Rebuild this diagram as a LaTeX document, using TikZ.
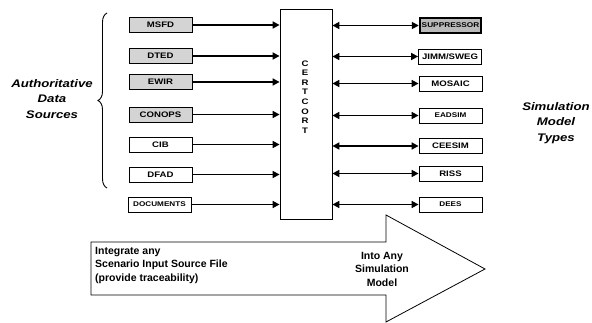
\documentclass[tikz,border=0pt]{standalone}
\usepackage{fontspec}
\setmainfont{Liberation Sans}
\newfontfamily\widesans{Liberation Sans}[FakeStretch=1.2]
\usetikzlibrary{arrows.meta,decorations.pathreplacing}

\tikzset{
  srcbox/.style={draw, line width=0.8pt, minimum width=63pt, minimum height=15pt, inner sep=0pt, font=\widesans\bfseries\fontsize{8}{9}\selectfont},
  smalltext/.style={font=\widesans\bfseries\fontsize{6.8}{8}\selectfont},
  shaded/.style={fill=black!17},
  feed/.style={line width=1.6pt, -{Triangle[length=7pt,width=7pt]}},
  swap/.style={line width=1.6pt, {Triangle[length=7pt,width=7pt]}-{Triangle[length=7pt,width=7pt]}},
  sidetext/.style={font=\widesans\bfseries\itshape\fontsize{11}{15.5}\selectfont, align=center},
  arrowtext/.style={font=\bfseries\fontsize{10.5}{13.5}\selectfont, inner sep=0pt},
}

\begin{document}
\begin{tikzpicture}[x=1pt, y=-1pt]
	%%%%% FRAME %%%%%
	\useasboundingbox (0,0) rectangle (592,323);
	
	%%%%% SOURCES %%%%%
	\node[sidetext] (authority) at (52, 99) {Authoritative\\Data\\Sources};
	\draw[line width=0.9pt, decorate, decoration={brace, amplitude=9pt}] (107, 188) -- (107, 13);
	
	\node[srcbox, shaded] (msfd) at (160.5, 25) {MSFD};
	\node[srcbox, shaded] (dted) at (160.5, 56) {DTED};
	\node[srcbox, shaded] (ewir) at (160.5, 82) {EWIR};
	\node[srcbox, shaded] (conops) at (160.5, 114.5) {CONOPS};
	\node[srcbox] (cib) at (160.5, 144.5) {CIB};
	\node[srcbox] (dfad) at (160.5, 174.5) {DFAD};
	\node[srcbox, smalltext] (documents) at (159.5, 204.5) {DOCUMENTS};
	
	%%%%% CERTCORT %%%%%
	\node[draw, line width=0.8pt, minimum width=52pt, minimum height=210pt, inner sep=0pt] (certcort) at (306, 114) {};
	\node[font=\widesans\bfseries\fontsize{8}{9.6}\selectfont, align=center, inner sep=0pt] (certtext) at (305, 97) {C\\E\\R\\T\\C\\O\\R\\T};
	
	\draw[feed] (msfd.east) -- (msfd.east -| certcort.west);
	\draw[feed] (dted.east) -- (dted.east -| certcort.west);
	\draw[feed] (ewir.east) -- (ewir.east -| certcort.west);
	\draw[feed] (conops.east) -- (conops.east -| certcort.west);
	\draw[feed] (cib.east) -- (cib.east -| certcort.west);
	\draw[feed] (dfad.east) -- (dfad.east -| certcort.west);
	\draw[feed] (documents.east) -- (documents.east -| certcort.west);
	
	%%%%% MODELS %%%%%
	\node[srcbox, fill=black!27, line width=2.4pt, minimum width=61pt, font=\widesans\bfseries\fontsize{6.9}{8}\selectfont] (suppressor) at (450.5, 25.5) {SUPPRESSOR};
	\node[srcbox] (jimm) at (450, 56.5) {JIMM/SWEG};
	\node[srcbox] (mosaic) at (450.5, 83.5) {MOSAIC};
	\node[srcbox, smalltext] (eadsim) at (450.5, 115.5) {EADSIM};
	\node[srcbox] (ceesim) at (450.5, 146) {CEESIM};
	\node[srcbox] (riss) at (450.5, 173.5) {RISS};
	\node[srcbox, smalltext] (dees) at (450.5, 204.5) {DEES};
	
	\draw[swap] (certcort.east |- suppressor.west) -- (suppressor.west);
	\draw[swap] (certcort.east |- jimm.west) -- (jimm.west);
	\draw[swap] (certcort.east |- mosaic.west) -- (mosaic.west);
	\draw[swap] (certcort.east |- eadsim.west) -- (eadsim.west);
	\draw[swap] (certcort.east |- ceesim.west) -- (ceesim.west);
	\draw[swap] (certcort.east |- riss.west) -- (riss.west);
	\draw[swap] (certcort.east |- dees.west) -- (dees.west);
	
	\node[sidetext] (modeltypes) at (556, 123) {Simulation\\Model\\Types};
	
	%%%%% BIG ARROW %%%%%
	\draw[line width=0.8pt] (91, 242) -- (386, 242) -- (386, 215) -- (485, 269) -- (386, 322) -- (386, 295) -- (91, 295) -- cycle;
	\node[arrowtext, anchor=north west, align=left] (integrate) at (95, 247) {Integrate any\\Scenario Input Source File\\(provide traceability)};
	\node[arrowtext, align=center] (intoany) at (382, 269) {Into Any\\Simulation\\Model};
	
	%%%%% END %%%%%
\end{tikzpicture}
\end{document}
